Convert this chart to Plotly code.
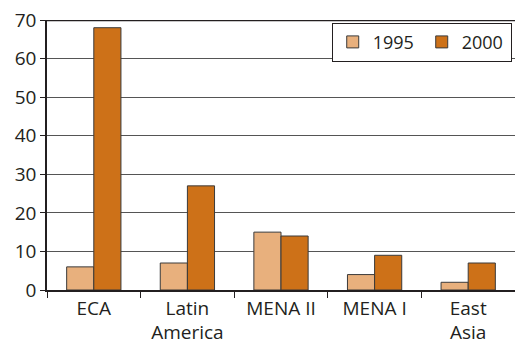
import plotly.graph_objects as go

# data
regions = ["ECA", "Latin<br>America", "MENA II", "MENA I", "East<br>Asia"]
vals_1995 = [6, 7, 15, 4, 2]
vals_2000 = [68, 27, 14, 9, 7]

FONT = "Open Sans, sans-serif"
C1995 = "#E8B07D"
C2000 = "#CD7118"

fig = go.Figure()
fig.add_trace(go.Bar(x=regions, y=vals_1995, name="1995",
                     marker=dict(color=C1995, line=dict(color="#3a3a3a", width=1))))
fig.add_trace(go.Bar(x=regions, y=vals_2000, name="2000",
                     marker=dict(color=C2000, line=dict(color="#3a3a3a", width=1))))

# thick line on top of plot area
fig.add_shape(type="line", xref="paper", yref="y", x0=0, x1=1, y0=70, y1=70,
              line=dict(color="#231f20", width=2.5))

fig.update_layout(
    width=515, height=344,
    margin=dict(l=47, r=0, t=20, b=54, autoexpand=False),
    paper_bgcolor="white", plot_bgcolor="white",
    barmode="group", bargap=0.42, bargroupgap=0,
    font=dict(family=FONT, size=19, color="#231f20"),
    showlegend=True,
    legend=dict(orientation="h", x=0.993, xanchor="right", y=0.99, yanchor="top",
                bordercolor="#231f20", borderwidth=1, bgcolor="white",
                font=dict(size=18), itemwidth=30, entrywidth=44,
                tracegroupgap=0),
    xaxis=dict(showline=True, linecolor="#231f20", linewidth=1.5,
               ticks="outside", tickson="boundaries", ticklen=6, tickcolor="#231f20",
               showgrid=False, automargin=False),
    yaxis=dict(range=[0, 70], dtick=10, showline=True, linecolor="#231f20", linewidth=1.5,
               ticks="outside", ticklen=5, tickcolor="#231f20", automargin=False,
               showgrid=True, gridcolor="#555555", gridwidth=1.2, zeroline=False),
)

fig.write_html("out.html", config={"displayModeBar": False},
               post_script="document.body.style.margin='0';")
